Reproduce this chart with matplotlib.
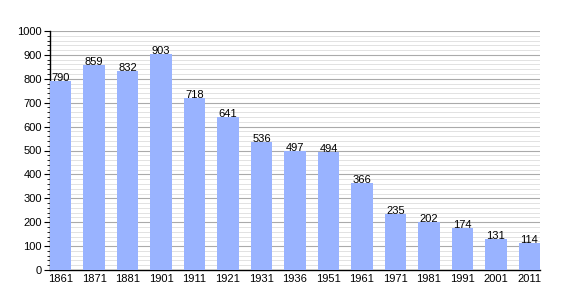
import matplotlib
matplotlib.use("Agg")
import matplotlib.pyplot as plt
import numpy as np
from matplotlib.ticker import MultipleLocator

plt.rcParams["font.family"] = ["Liberation Sans", "DejaVu Sans"]

years = ["1861", "1871", "1881", "1901", "1911", "1921", "1931", "1936",
         "1951", "1961", "1971", "1981", "1991", "2001", "2011"]
population = [790, 859, 832, 903, 718, 641, 536, 497, 494, 366, 235, 202, 174, 131, 114]

fig = plt.figure(figsize=(5.7, 3.0), dpi=100)
ax = fig.add_axes([50 / 570, 30 / 300, 490 / 570, 239 / 300])

x = np.arange(len(years))
ax.bar(x, population, width=0.63, color="#99b3ff", zorder=3)

# value labels sit right on top of each bar
for xi, v in zip(x, population):
    ax.annotate(str(v), (xi, v), xytext=(0, -1.5), textcoords="offset points",
                ha="center", va="bottom", fontsize=8, zorder=4)

ax.set_xlim(-0.315, len(years) - 1 + 0.315)
ax.set_ylim(0, 1000)
ax.yaxis.set_major_locator(MultipleLocator(100))
ax.yaxis.set_minor_locator(MultipleLocator(20))
ax.grid(which="major", axis="y", color="#aaaaaa", linewidth=0.8, zorder=1)
ax.grid(which="minor", axis="y", color="#dddddd", linewidth=0.6, zorder=0)

ax.set_xticks(x)
ax.set_xticklabels(years, fontsize=8)
ax.tick_params(axis="x", length=0, pad=3)
ax.tick_params(axis="y", which="major", length=4, labelsize=8, pad=2)
ax.tick_params(axis="y", which="minor", length=2)

for s in ["top", "right"]:
    ax.spines[s].set_visible(False)
ax.spines["left"].set_linewidth(1)
ax.spines["bottom"].set_linewidth(1)

fig.savefig("out.png", dpi=100)
